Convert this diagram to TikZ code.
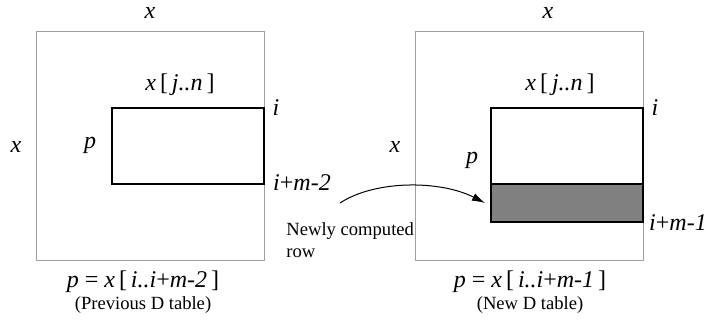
\documentclass[tikz,border=0pt]{standalone}
\usepackage{fontspec}
\setmainfont{Liberation Serif}
\usetikzlibrary{arrows.meta,positioning}
\definecolor{tblgray}{RGB}{160,160,160}
\definecolor{rowgray}{RGB}{128,128,128}
\tikzset{
  tbl/.style={rectangle, draw=tblgray, line width=0.5pt, minimum width=114pt, minimum height=114pt, inner sep=0pt},
  blk/.style={rectangle, draw=black, line width=1pt, minimum width=76pt, inner sep=0pt},
  lbl/.style={font=\rmfamily\fontsize{12}{14}\selectfont\itshape, inner sep=1pt},
  note/.style={font=\rmfamily\fontsize{9.3}{11}\selectfont, inner sep=0pt, align=left},
  carr/.style={-{Latex[length=6.5pt,width=4pt]}, line width=0.5pt},
}

\begin{document}
\begin{tikzpicture}[x=0.5pt,y=-0.5pt]
        \useasboundingbox (0,0) rectangle (711,320);
        % previous table
        \node[tbl](outL) at (150,146){};
        \node[blk,minimum height=38pt](pL) at (188,146){};
        \node[lbl](xtL) at (150,13){x};
        \node[lbl](xsL) at (16,147){x};
        \node[lbl](jnL) at (180,85){x\,\upshape[\,\itshape j..n\,\upshape]};
        \node[lbl](pnL) at (90,145){p};
        \node[lbl](iL) at (276,108){i};
        \node[lbl](imL) at (302,183){i\upshape+\itshape m-2};
        \node[lbl](eqL) at (143,282){p \upshape= \itshape x\,\upshape[\,\itshape i..i\upshape+\itshape m-2\,\upshape]};
        \node[note](capL) at (143,305){(Previous D table)};
        % new table
        \node[tbl](outR) at (529,146){};
        \node[blk,minimum height=38pt](pR) at (567,146){};
        \node[blk,fill=rowgray,minimum height=19pt](rowR) at (567,203){};
        \node[lbl](xtR) at (548,13){x};
        \node[lbl](xsR) at (395,147){x};
        \node[lbl](jnR) at (560,85){x\,\upshape[\,\itshape j..n\,\upshape]};
        \node[lbl](pnR) at (472,160){p};
        \node[lbl](iR) at (655,108){i};
        \node[lbl](imR) at (678,223){i\upshape+\itshape m-1};
        \node[lbl](eqR) at (530,282){p \upshape= \itshape x\,\upshape[\,\itshape i..i\upshape+\itshape m-1\,\upshape]};
        \node[note](capR) at (530,305){(New D table)};
        % newly computed row
        \node[note,anchor=north west](newly) at (286,222){Newly computed\\row};
        \coordinate (nstart) at (340,203);
        \draw[carr](nstart) .. controls (375,180) and (440,180) .. ([xshift=-2.5pt]rowR.west);
    \end{tikzpicture}
\end{document}
